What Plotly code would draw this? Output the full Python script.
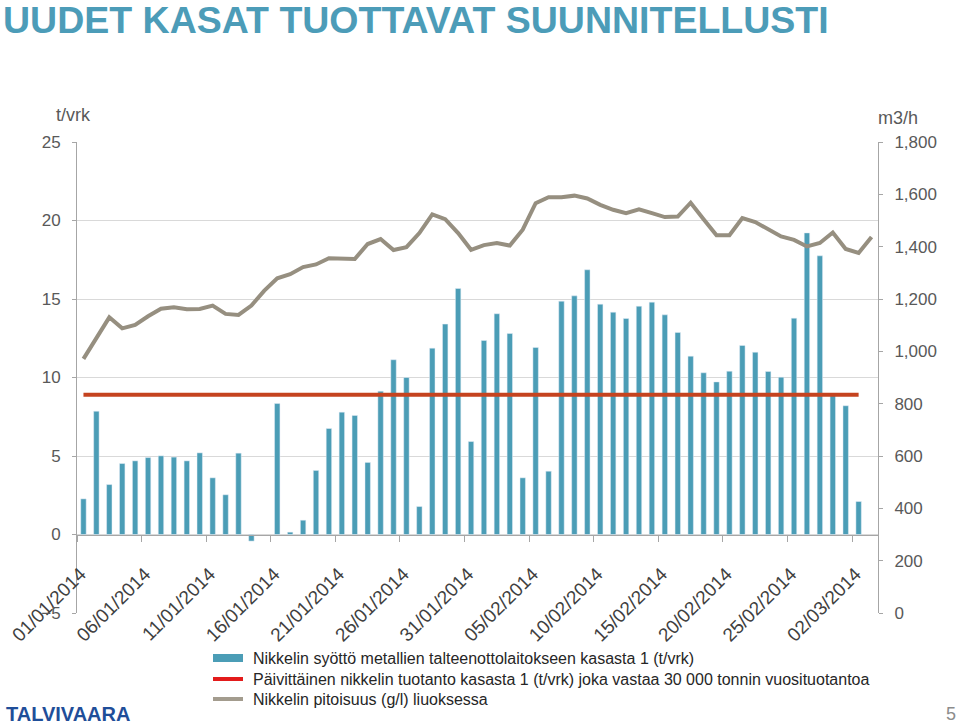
import pandas as pd
import plotly.graph_objects as go

# daily categories 01/01/2014 .. 03/03/2014
days = pd.date_range('2014-01-01', periods=62, freq='D')
label_days = days[::5]

# nickel feed to metals recovery plant, heap 1 (t/vrk)
feed = [2.27, 7.85, 3.18, 4.52, 4.69, 4.90, 5.01, 4.93, 4.69, 5.20,
        3.61, 2.53, 5.18, -0.42, None, 8.34, 0.15, 0.91, 4.08, 6.75,
        7.79, 7.58, 4.59, 9.13, 11.13, 10.0, 1.78, 11.87, 13.40, 15.67,
        5.92, 12.36, 14.06, 12.80, 3.61, 11.91, 4.03, 14.86, 15.20, 16.86,
        14.67, 14.16, 13.76, 14.54, 14.80, 13.99, 12.87, 11.36, 10.30, 9.72,
        10.40, 12.04, 11.61, 10.38, 10.02, 13.78, 19.21, 17.75, 8.92, 8.20,
        2.10, None]

# daily production matching 30 000 t/a (t/vrk)
target = 8.9

# nickel concentration in solution (right axis)
conc = [971, 1048, 1130, 1088, 1101, 1134, 1163, 1168, 1161, 1162,
        1175, 1143, 1139, 1175, 1232, 1279, 1295, 1322, 1332, 1356,
        1353, 1353, 1410, 1429, 1387, 1398, 1452, 1523, 1505, 1452,
        1388, 1406, 1414, 1404, 1465, 1566, 1589, 1589, 1595, 1584,
        1560, 1541, 1528, 1543, 1528, 1513, 1515, 1568, 1505, 1444,
        1444, 1509, 1494, 1467, 1439, 1426, 1401, 1414, 1454, 1391,
        1376, 1437]

legend_names = [
    'Nikkelin syöttö metallien talteenottolaitokseen kasasta 1 (t/vrk)',
    'Päivittäinen nikkelin tuotanto kasasta 1 (t/vrk) joka vastaa 30 000 tonnin vuosituotantoa',
    'Nikkelin pitoisuus (g/l) liuoksessa',
]

W, H = 960, 725
L, R, T, B = 77, 82, 142, 112


def px(x):
    return (x - L) / (W - L - R)


def py(y):
    return (H - B - y) / (H - T - B)


teal = '#4B9DB6'
red = '#C5431F'
grey = '#968F80'
axis_col = '#A6A6A6'
font = 'Liberation Sans, Arial, sans-serif'
half_day = pd.Timedelta(hours=12)

fig = go.Figure()
fig.add_trace(go.Bar(x=days, y=feed, marker_color=teal, width=0.42 * 86400000,
                     name=legend_names[0]))
fig.add_trace(go.Scatter(x=[days[0], days[60]], y=[target, target], mode='lines',
                         line=dict(color=red, width=4), name=legend_names[1]))
fig.add_trace(go.Scatter(x=days, y=conc, yaxis='y2', mode='lines',
                         line=dict(color=grey, width=4), name=legend_names[2]))

fig.update_layout(
    width=W, height=H,
    margin=dict(l=L, r=R, t=T, b=B),
    plot_bgcolor='white', paper_bgcolor='white',
    showlegend=False,
    font=dict(family=font, color='#595959'),
    xaxis=dict(
        type='date', automargin=False,
        range=[days[0] - half_day, days[-1] + half_day],
        anchor='free', position=1 / 6,
        showline=True, linecolor=axis_col, showgrid=False, zeroline=False,
        tickmode='array', tickvals=label_days, tickformat='%d/%m/%Y',
        tickangle=-45, ticks='', ticklabelstandoff=20, ticklabelshift=-3,
        tickfont=dict(size=19, color='#404040'),
        minor=dict(tickmode='array', tickvals=label_days - half_day, ticks='outside',
                   ticklen=6, tickcolor=axis_col, showgrid=False),
    ),
    yaxis=dict(
        range=[-5, 25], dtick=5, showline=True, linecolor=axis_col, automargin=False,
        ticks='outside', ticklen=4, tickcolor=axis_col,
        gridcolor='#D9D9D9', zeroline=False, ticklabelstandoff=8,
        tickfont=dict(size=17),
    ),
    yaxis2=dict(
        overlaying='y', side='right', range=[0, 1800], dtick=200, tickformat=',',
        showline=True, linecolor=axis_col, ticks='outside', ticklen=4, automargin=False,
        tickcolor=axis_col, showgrid=False, zeroline=False, ticklabelstandoff=8,
        tickfont=dict(size=17),
    ),
)

ann = [
    dict(text='<b>UUDET KASAT TUOTTAVAT SUUNNITELLUSTI</b>', x=px(1), y=py(20),
         xanchor='left', yanchor='middle', font=dict(size=37.5, color='#4C9CB8')),
    dict(text='t/vrk', x=px(54), y=py(115), xanchor='left', yanchor='middle',
         font=dict(size=18)),
    dict(text='m3/h', x=px(876), y=py(118), xanchor='left', yanchor='middle',
         font=dict(size=18)),
    dict(text='<b>TALVIVAARA</b>', x=px(4), y=py(714), xanchor='left', yanchor='middle',
         font=dict(size=20, color='#1F4E99')),
    dict(text='5', x=px(944), y=py(714), xanchor='left', yanchor='middle',
         font=dict(size=18, color='#8C8C8C')),
]
rows = [658, 679, 699]
for name, yy in zip(legend_names, rows):
    ann.append(dict(text=name, x=px(251), y=py(yy), xanchor='left', yanchor='middle',
                    font=dict(size=16, color='#262626')))
for a in ann:
    a.update(xref='paper', yref='paper', showarrow=False)
fig.update_layout(annotations=ann)

# legend keys
fig.add_shape(type='rect', xref='paper', yref='paper', x0=px(213), x1=px(243),
              y0=py(662), y1=py(654), fillcolor=teal, line_width=0)
fig.add_shape(type='line', xref='paper', yref='paper', x0=px(213), x1=px(243),
              y0=py(679), y1=py(679), line=dict(color='#E31B1B', width=4))
fig.add_shape(type='line', xref='paper', yref='paper', x0=px(213), x1=px(243),
              y0=py(699), y1=py(699), line=dict(color='#A39C8E', width=4))

# drop the browser's default body margin (and scrollbars) so the figure sits at the page corner
fig.write_html('out.html', config={'displayModeBar': False},
               post_script="document.body.style.margin='0';"
                           "document.documentElement.style.overflow='hidden';")
